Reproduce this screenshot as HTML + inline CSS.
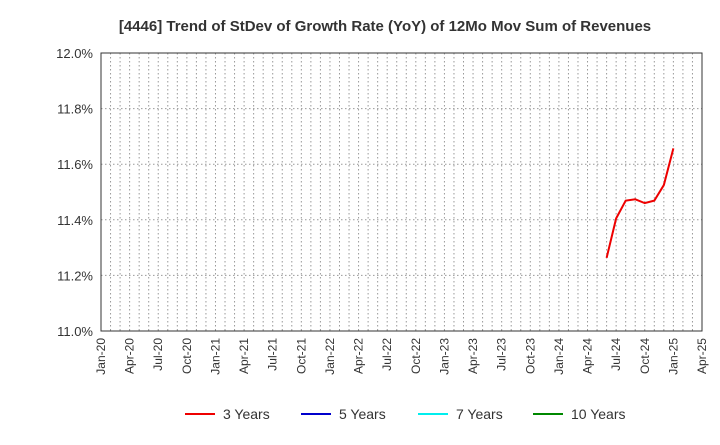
<!DOCTYPE html>
<html><head><meta charset="utf-8"><style>
body{margin:0;background:#fff;font-family:"Liberation Sans",sans-serif}
</style></head><body>
<svg id="chart" width="720" height="440" xmlns="http://www.w3.org/2000/svg" font-family="Liberation Sans, sans-serif">
<text x="385" y="31" text-anchor="middle" font-size="15" font-weight="bold" fill="#333">[4446]  Trend of StDev of Growth Rate (YoY) of 12Mo Mov Sum of Revenues</text>
<g id="grid"></g><g id="axes"></g><g id="series"></g>
<g font-size="14" fill="#333">
<g><line x1="185" y1="414" x2="215" y2="414" stroke="#e00" stroke-width="2"/><text x="223" y="419">3 Years</text></g>
<g><line x1="301" y1="414" x2="331" y2="414" stroke="#00c" stroke-width="2"/><text x="339" y="419">5 Years</text></g>
<g><line x1="418" y1="414" x2="448" y2="414" stroke="#0ee" stroke-width="2"/><text x="456" y="419">7 Years</text></g>
<g><line x1="533" y1="414" x2="563" y2="414" stroke="#080" stroke-width="2"/><text x="571" y="419">10 Years</text></g>
</g>
</svg>
<script>
const yTicks=[11.0,11.2,11.4,11.6,11.8,12.0];
const xTickLabels=["Jan-20","Apr-20","Jul-20","Oct-20","Jan-21","Apr-21","Jul-21","Oct-21","Jan-22","Apr-22","Jul-22","Oct-22","Jan-23","Apr-23","Jul-23","Oct-23","Jan-24","Apr-24","Jul-24","Oct-24","Jan-25","Apr-25"];
const months3=[53,54,55,56,57,58,59,60];
const values3=[11.263,11.405,11.469,11.474,11.460,11.469,11.525,11.657];
const L=101,R=702,T=53,B=331,NS="http://www.w3.org/2000/svg";
const xS=m=>L+m*(R-L)/63, yS=v=>B-(v-11.0)*(B-T)/1.0;
function mk(t,a,p){const e=document.createElementNS(NS,t);for(const k in a)e.setAttribute(k,a[k]);p.appendChild(e);return e;}
const g=document.getElementById('grid'),ax=document.getElementById('axes'),s=document.getElementById('series');
for(let m=1;m<63;m++){const l=mk('line',{x1:xS(m),x2:xS(m),y1:T,y2:B,stroke:'#999','stroke-dasharray':'1.5,2.5','stroke-width':1},g);

}
yTicks.forEach(v=>{const y=yS(v);
if(v>11.0&&v<12.0){const l=mk('line',{x1:L,x2:R,y1:y,y2:y,stroke:'#999','stroke-dasharray':'1.5,2.5'},g);

}
const t=mk('text',{x:L-8,y:y+5,'text-anchor':'end','font-size':13,fill:'#333'},ax);t.textContent=v.toFixed(1)+'%';

});
const fr=mk('rect',{x:L,y:T,width:R-L,height:B-T,fill:'none',stroke:'#333'},ax);


xTickLabels.forEach((lb,i)=>{const x=xS(i*3);
const t=mk('text',{transform:`translate(${x+4},${B+7}) rotate(-90)`,'text-anchor':'end','font-size':12,fill:'#333'},ax);t.textContent=lb;

});
const p=mk('polyline',{points:months3.map((m,i)=>xS(m)+','+yS(values3[i])).join(' '),fill:'none',stroke:'#e00','stroke-width':2},s);


</script>
</body></html>
